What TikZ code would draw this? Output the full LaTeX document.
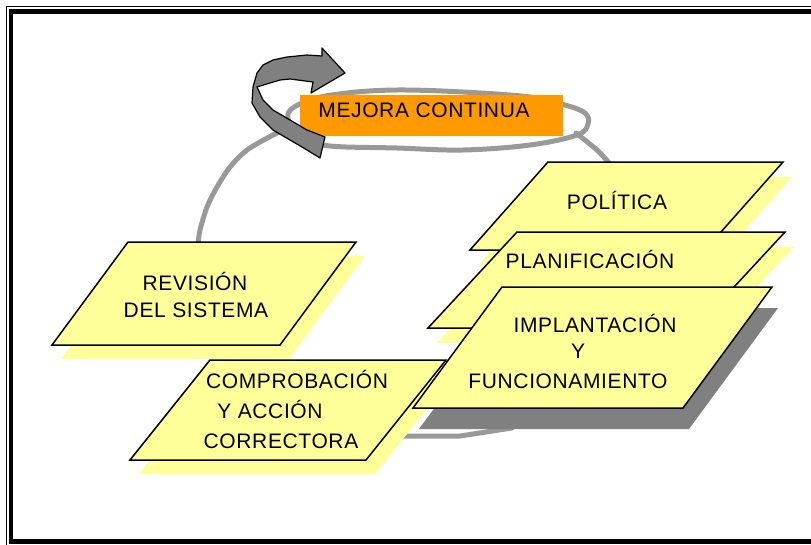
\documentclass[tikz,border=0pt]{standalone}
\usepackage{fontspec}
\setmainfont[LetterSpace=3]{Liberation Sans}
\definecolor{boxyellow}{RGB}{255,255,153}
\definecolor{mejoraorange}{RGB}{255,153,0}
\definecolor{loopgray}{RGB}{153,153,153}
\definecolor{shadowgray}{RGB}{128,128,128}
\tikzset{
  pgram/.style={fill=boxyellow, draw=black, line width=1.5pt},
  pshadow/.style={fill=boxyellow},
  dshadow/.style={fill=shadowgray},
  loopline/.style={draw=loopgray, line width=5pt, line join=round, line cap=round},
  lbl/.style={anchor=base, inner sep=0pt, font=\fontsize{21}{25}\selectfont}
}

\begin{document}
\begin{tikzpicture}[x=1pt,y=-1pt]
    % Fix the size of the picture
    \useasboundingbox (0,0) rectangle (811,544);

    % Draw the frame
    \draw[line width=0.8pt] (6.5,560) -- (6.5,6.5) -- (830,6.5);
    \draw[line width=4.5pt] (830,541.5) -- (11,541.5) -- (11,11.5) -- (830,11.5);

    % Draw the gray loop round the title
    \draw[loopline] plot[smooth cycle, tension=0.6] coordinates {(288,114) (310,100) (347,93) (397,90) (463,92) (530,97) (565,105) (585,113) (588,124) (577,135) (530,145) (463,150) (397,148) (330,146) (300,138)};

    % Draw the gray lines down to the boxes
    \draw[loopline] plot[smooth] coordinates {(285,130) (273,135) (247,150) (230,167) (217,187) (207,207) (200,230) (198,244)};
    \draw[loopline] plot[smooth] coordinates {(576,133) (597,150) (610,164)};
    \draw[loopline] (395,436) -- (460,436) -- (512,428);

    % Draw the REVISION box
    \fill[pshadow] (137,256) -- (365,256) -- (289,359) -- (61,359) -- cycle;
    \filldraw[pgram] (128,242) -- (356,242) -- (280,345) -- (52,345) -- cycle;

    % Draw the COMPROBACION box
    \fill[pshadow] (219,374) -- (455,374) -- (375,474) -- (139,474) -- cycle;
    \filldraw[pgram] (210,360) -- (446,360) -- (366,460) -- (130,460) -- cycle;

    % Draw the POLITICA box
    \fill[pshadow] (557,177) -- (792,177) -- (714,265) -- (479,265) -- cycle;
    \filldraw[pgram] (548,162) -- (783,162) -- (705,250) -- (470,250) -- cycle;

    % Draw the PLANIFICACION box
    \fill[pshadow] (526,247) -- (794,247) -- (705,343) -- (437,343) -- cycle;
    \filldraw[pgram] (517,232) -- (785,232) -- (696,328) -- (428,328) -- cycle;

    % Draw the IMPLANTACION box
    \fill[dshadow] (508,308) -- (778,308) -- (689,429) -- (419,429) -- cycle;
    \filldraw[pgram] (502,287) -- (772,287) -- (683,408) -- (413,408) -- cycle;

    % Draw the title box
    \fill[mejoraorange] (300,95) rectangle (563,136);

    % Draw the curved arrow
    \filldraw[fill=shadowgray, draw=black, line width=1.2pt, line join=round]
      (322,48) -- (345,73) -- (311,93) -- (313,82) -- (290,79) -- (280,80) -- (270,83) -- (257,87)
      -- (263,100) -- (273,110) -- (290,120) -- (307,130) -- (325,137) -- (320,158)
      -- (307,150) -- (290,140) -- (273,130) -- (260,117) -- (252,103) -- (253,87)
      -- (257,73) -- (263,65) -- (273,60) -- (287,57) -- (307,55) -- (322,56) -- cycle;

    % Label the title
    \node[lbl] (mejora) at (424,117) {MEJORA CONTINUA};

    % Label the boxes
    \node[lbl] (rev1) at (195,290) {REVISIÓN};
    \node[lbl] (rev2) at (196,317) {DEL SISTEMA};
    \node[lbl] (comp1) at (297,388) {COMPROBACIÓN};
    \node[lbl] (comp2) at (270,418) {Y ACCIÓN};
    \node[lbl] (comp3) at (281,448) {CORRECTORA};
    \node[lbl] (pol) at (617,209) {POLÍTICA};
    \node[lbl] (plan) at (590,268) {PLANIFICACIÓN};
    \node[lbl] (impl1) at (595,332) {IMPLANTACIÓN};
    \node[lbl] (impl2) at (578,358) {Y};
    \node[lbl] (impl3) at (568,388) {FUNCIONAMIENTO};
\end{tikzpicture}
\end{document}
